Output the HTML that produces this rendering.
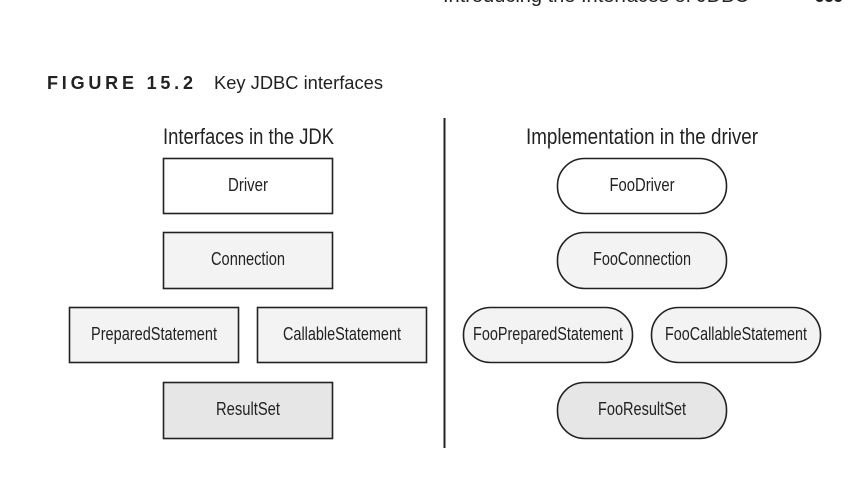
<!DOCTYPE html>
<html><head><style>
html,body{margin:0;padding:0;background:#fff;}
svg{display:block;}
text{font-family:"Liberation Sans",Arial,sans-serif;fill:#222;}
</style></head><body>
<svg width="862" height="478" viewBox="0 0 862 478" xmlns="http://www.w3.org/2000/svg">
<text x="443" y="2" font-size="19" textLength="306" lengthAdjust="spacingAndGlyphs">Introducing the Interfaces of JDBC</text>
<text x="815" y="2" font-size="19" font-weight="bold" textLength="28" lengthAdjust="spacingAndGlyphs">535</text>
<text x="47" y="89" font-size="18" font-weight="bold" fill="#111" textLength="146" lengthAdjust="spacing">FIGURE 15.2</text>
<text x="214" y="89" font-size="18" textLength="169" lengthAdjust="spacingAndGlyphs">Key JDBC interfaces</text>
<line x1="444.5" y1="118" x2="444.5" y2="448" stroke="#222" stroke-width="2"/>
<text x="163" y="144" font-size="22" textLength="171" lengthAdjust="spacingAndGlyphs">Interfaces in the JDK</text>
<text x="526" y="144" font-size="22" textLength="232" lengthAdjust="spacingAndGlyphs">Implementation in the driver</text>
<g stroke="#222" stroke-width="1.6">
<rect x="163.5" y="158.5" width="169" height="55" fill="#fff"/>
<rect x="163.5" y="232.5" width="169" height="56" fill="#f3f3f3"/>
<rect x="69.5" y="307.5" width="169" height="55" fill="#f3f3f3"/>
<rect x="257.5" y="307.5" width="169" height="55" fill="#f3f3f3"/>
<rect x="163.5" y="382.5" width="169" height="56" fill="#e6e6e6"/>
<rect x="557.5" y="158.5" width="169" height="55" rx="27" fill="#fff"/>
<rect x="557.5" y="232.5" width="169" height="56" rx="27" fill="#f3f3f3"/>
<rect x="463.5" y="307.5" width="169" height="55" rx="27" fill="#f3f3f3"/>
<rect x="651.5" y="307.5" width="169" height="55" rx="27" fill="#f3f3f3"/>
<rect x="557.5" y="382.5" width="169" height="56" rx="27" fill="#e6e6e6"/>
</g>
<g font-size="18" text-anchor="middle">
<text x="248" y="191" textLength="40" lengthAdjust="spacingAndGlyphs">Driver</text>
<text x="248" y="265" textLength="74" lengthAdjust="spacingAndGlyphs">Connection</text>
<text x="154" y="340" textLength="126" lengthAdjust="spacingAndGlyphs">PreparedStatement</text>
<text x="342" y="340" textLength="118" lengthAdjust="spacingAndGlyphs">CallableStatement</text>
<text x="248" y="415" textLength="64" lengthAdjust="spacingAndGlyphs">ResultSet</text>
<text x="642" y="191" textLength="65" lengthAdjust="spacingAndGlyphs">FooDriver</text>
<text x="642" y="265" textLength="98" lengthAdjust="spacingAndGlyphs">FooConnection</text>
<text x="548" y="340" textLength="150" lengthAdjust="spacingAndGlyphs">FooPreparedStatement</text>
<text x="736" y="340" textLength="142" lengthAdjust="spacingAndGlyphs">FooCallableStatement</text>
<text x="642" y="415" textLength="88" lengthAdjust="spacingAndGlyphs">FooResultSet</text>
</g>
</svg>
</body></html>
